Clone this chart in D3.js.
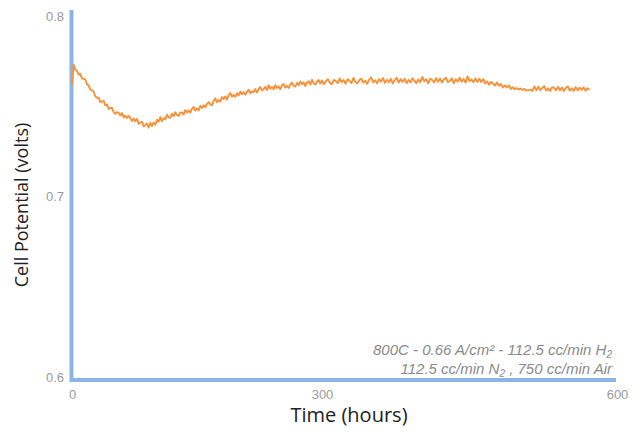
<!DOCTYPE html>
<html>
<head>
<meta charset="utf-8">
<script src="https://cdn.jsdelivr.net/npm/d3@7"></script>
<style>
  body { margin: 0; background: #ffffff; }
  svg { display: block; }
</style>
</head>
<body>
<svg id="chart" width="639" height="433"></svg>
<script>
// ---- data ----
const hourStep = 2; // sampling interval of the trace, hours
const cellVolts = [
  0.7620,0.7730,0.7702,0.7696,0.7676,0.7679,0.7654,0.7653,0.7648,0.7620,
  0.7616,0.7591,0.7589,0.7582,0.7554,0.7547,0.7548,0.7523,0.7527,0.7530,
  0.7505,0.7510,0.7485,0.7489,0.7491,0.7468,0.7457,0.7468,0.7464,0.7449,
  0.7463,0.7438,0.7448,0.7435,0.7447,0.7434,0.7418,0.7432,0.7416,0.7430,
  0.7402,0.7411,0.7413,0.7388,0.7395,0.7405,0.7381,0.7409,0.7390,0.7410,
  0.7398,0.7425,0.7414,0.7440,0.7417,0.7434,0.7428,0.7453,0.7439,0.7435,
  0.7459,0.7444,0.7467,0.7452,0.7446,0.7466,0.7464,0.7454,0.7479,0.7464,
  0.7477,0.7464,0.7487,0.7496,0.7476,0.7489,0.7477,0.7503,0.7491,0.7506,
  0.7494,0.7513,0.7523,0.7509,0.7506,0.7530,0.7543,0.7522,0.7535,0.7526,
  0.7551,0.7540,0.7554,0.7537,0.7563,0.7573,0.7553,0.7563,0.7552,0.7573,
  0.7560,0.7581,0.7567,0.7578,0.7564,0.7580,0.7592,0.7572,0.7583,0.7578,
  0.7595,0.7576,0.7595,0.7607,0.7588,0.7594,0.7608,0.7589,0.7617,0.7597,
  0.7608,0.7594,0.7617,0.7601,0.7610,0.7594,0.7617,0.7623,0.7603,0.7613,
  0.7601,0.7621,0.7631,0.7613,0.7609,0.7630,0.7616,0.7637,0.7622,0.7633,
  0.7612,0.7631,0.7638,0.7620,0.7647,0.7627,0.7620,0.7637,0.7645,0.7626,
  0.7643,0.7622,0.7639,0.7650,0.7630,0.7622,0.7646,0.7639,0.7628,0.7654,
  0.7633,0.7646,0.7625,0.7650,0.7641,0.7628,0.7657,0.7634,0.7627,0.7645,
  0.7653,0.7631,0.7641,0.7624,0.7648,0.7660,0.7633,0.7644,0.7627,0.7650,
  0.7637,0.7656,0.7629,0.7647,0.7633,0.7652,0.7626,0.7644,0.7658,0.7631,
  0.7650,0.7635,0.7653,0.7628,0.7646,0.7632,0.7655,0.7641,0.7627,0.7649,
  0.7633,0.7662,0.7638,0.7650,0.7627,0.7653,0.7645,0.7632,0.7656,0.7636,
  0.7654,0.7631,0.7648,0.7659,0.7634,0.7640,0.7655,0.7628,0.7650,0.7637,
  0.7658,0.7636,0.7652,0.7631,0.7665,0.7639,0.7649,0.7633,0.7654,0.7635,
  0.7652,0.7634,0.7651,0.7626,0.7637,0.7619,0.7635,0.7626,0.7615,0.7632,
  0.7613,0.7624,0.7604,0.7616,0.7605,0.7616,0.7595,0.7606,0.7594,0.7601,
  0.7593,0.7599,0.7590,0.7596,0.7587,0.7589,0.7592,0.7585,0.7610,0.7589,
  0.7608,0.7589,0.7601,0.7611,0.7587,0.7599,0.7584,0.7606,0.7602,0.7588,
  0.7608,0.7589,0.7604,0.7584,0.7602,0.7609,0.7587,0.7599,0.7585,0.7606,
  0.7588,0.7603,0.7591,0.7605,0.7586,0.7600,0.7592
];
const hours = cellVolts.map((_, i) => i * hourStep);
const xTicks = [0, 300, 600];
const yTicks = [0.6, 0.7, 0.8];
const xTitle = "Time (hours)";
const yTitle = "Cell Potential (volts)";

// ---- drawing ----
const svg = d3.select("#chart");
const x = d3.scaleLinear().domain([0, 300, 600]).range([72, 322, 617]);
const y = d3.scaleLinear().domain([0.6, 0.8]).range([377, 16]);

const axisColor = "#8cb4e4";
const tickColor = "#9a9a9a";
const font = "'Liberation Sans', Arial, sans-serif";

// y tick labels
const gy = svg.append("g").attr("transform", "translate(64,0)")
  .call(d3.axisLeft(y).tickValues(yTicks).tickSize(0).tickPadding(0).tickFormat(d3.format(".1f")));
gy.select(".domain").remove();
gy.selectAll("text").attr("fill", tickColor).style("font-family", font).style("font-size", "13px");

// x tick labels
const gx = svg.append("g").attr("transform", "translate(0,388)")
  .call(d3.axisBottom(x).tickValues(xTicks).tickSize(0).tickPadding(2).tickFormat(d3.format("d")));
gx.select(".domain").remove();
gx.selectAll("text").attr("fill", tickColor).style("font-family", font).style("font-size", "13px");

// axis lines
svg.append("line").attr("x1", 71.5).attr("x2", 71.5).attr("y1", 10).attr("y2", 382)
  .attr("stroke", axisColor).attr("stroke-width", 4);
svg.append("line").attr("x1", 70).attr("x2", 616).attr("y1", 380).attr("y2", 380)
  .attr("stroke", axisColor).attr("stroke-width", 4);

// data line
const line = d3.line().x((d, i) => x(hours[i])).y(d => y(d));
svg.append("path").datum(cellVolts)
  .attr("d", line).attr("fill", "none")
  .attr("stroke", "#f7913a").attr("stroke-width", 1.9).attr("stroke-linejoin", "round");

// titles
svg.append("text").attr("x", 349).attr("y", 422).attr("text-anchor", "middle")
  .attr("fill", "#222").style("font-family", "'Open Sans', sans-serif").style("font-size", "20px")
  .text(xTitle);
svg.append("text").attr("transform", "translate(28,205) rotate(-90)").attr("text-anchor", "middle")
  .attr("fill", "#222").style("font-family", "'Open Sans', sans-serif").style("font-size", "18px")
  .text(yTitle);

// annotation
const ann = svg.append("g").attr("fill", "#8a8a8a")
  .style("font-family", font).style("font-size", "15px").style("font-style", "italic");
const t1 = ann.append("text").attr("x", 612).attr("y", 355).attr("text-anchor", "end");
t1.append("tspan").text("800C - 0.66 A/cm² - 112.5 cc/min H");
t1.append("tspan").attr("dy", 3).style("font-size", "10px").text("2");
const t2 = ann.append("text").attr("x", 612).attr("y", 374).attr("text-anchor", "end");
t2.append("tspan").text("112.5 cc/min N");
t2.append("tspan").attr("dy", 3).style("font-size", "10px").text("2");
t2.append("tspan").attr("dy", -3).text(" , 750 cc/min Air");
</script>
</body>
</html>
